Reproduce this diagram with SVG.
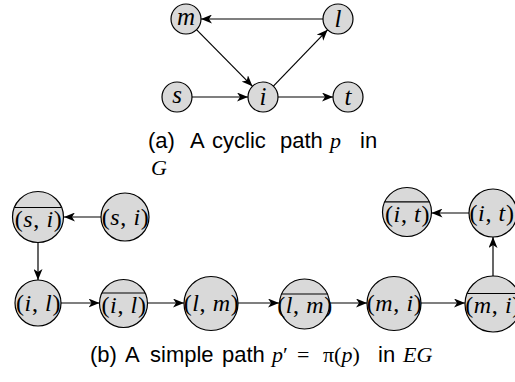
<svg xmlns="http://www.w3.org/2000/svg" width="515" height="382" viewBox="0 0 515 382">
<defs>
<marker id="ah" markerWidth="12" markerHeight="9" refX="11" refY="4.5" orient="auto" markerUnits="userSpaceOnUse">
<path d="M0,0 L11,4.5 L0,9 L3,4.5 z" fill="#000"/>
</marker>
<style>
.n{fill:#d9d9d9;stroke:#000;stroke-width:1.2}
.ov{stroke:#000;stroke-width:1.2}
.e{stroke:#000;stroke-width:1.2;fill:none;marker-end:url(#ah)}
.lb{font-family:"Liberation Serif","DejaVu Serif",serif;font-size:24px;letter-spacing:0.6px;text-anchor:middle;fill:#000}
.tp{font-family:"Liberation Serif","DejaVu Serif",serif;font-size:25px;text-anchor:middle;fill:#000;font-style:italic}
.it{font-style:italic}
.cap{font-family:"Liberation Sans",Arial,sans-serif;font-size:22px;fill:#000}
.m{font-family:"Liberation Serif","DejaVu Serif",serif}
</style>
</defs>
<g id="connectors">
<line class="e" x1="323" y1="19" x2="201" y2="19"/>
<line class="e" x1="196.5" y1="29.7" x2="252.5" y2="86.3"/>
<line class="e" x1="273.4" y1="86.2" x2="327.6" y2="29.8"/>
<line class="e" x1="192" y1="97" x2="248" y2="97"/>
<line class="e" x1="278" y1="97" x2="333" y2="97"/>
<line class="e" x1="101" y1="217" x2="64" y2="217"/>
<line class="e" x1="38" y1="243" x2="38" y2="280"/>
<line class="e" x1="61" y1="303" x2="99.5" y2="303"/>
<line class="e" x1="147.5" y1="303" x2="184" y2="303"/>
<line class="e" x1="238" y1="303" x2="279" y2="303"/>
<line class="e" x1="329" y1="303" x2="367" y2="303"/>
<line class="e" x1="421" y1="303" x2="465" y2="303"/>
<line class="e" x1="493" y1="276" x2="493" y2="237"/>
<line class="e" x1="469" y1="213" x2="431.5" y2="213"/>
</g>
<g id="m"><circle class="n" cx="186" cy="19" r="15"/><text class="tp" x="186" y="25">m</text></g>
<g id="l"><circle class="n" cx="338" cy="19" r="15"/><text class="tp" x="338" y="27">l</text></g>
<g id="s"><circle class="n" cx="177" cy="97" r="15"/><text class="tp" x="177" y="103">s</text></g>
<g id="i"><circle class="n" cx="263" cy="97" r="15"/><text class="tp" x="263" y="105">i</text></g>
<g id="t"><circle class="n" cx="348" cy="97" r="15"/><text class="tp" x="348" y="105">t</text></g>
<g id="ov-si"><circle class="n" cx="38" cy="217" r="25.5"/><line class="ov" x1="14.8" y1="207.5" x2="61.2" y2="207.5"/><text class="lb" x="38.5" y="227">(<tspan class="it">s</tspan>, <tspan class="it">i</tspan>)</text></g>
<g id="si"><circle class="n" cx="125" cy="217" r="24"/><text class="lb" x="125.5" y="225">(<tspan class="it">s</tspan>, <tspan class="it">i</tspan>)</text></g>
<g id="il"><circle class="n" cx="38" cy="303" r="23"/><text class="lb" x="38.5" y="311">(<tspan class="it">i</tspan>, <tspan class="it">l</tspan>)</text></g>
<g id="ov-il"><circle class="n" cx="123.5" cy="303.5" r="24"/><line class="ov" x1="102" y1="293" x2="145" y2="293"/><text class="lb" x="124" y="313">(<tspan class="it">i</tspan>, <tspan class="it">l</tspan>)</text></g>
<g id="lm"><circle class="n" cx="211" cy="303.5" r="27"/><text class="lb" x="211.5" y="311">(<tspan class="it">l</tspan>, <tspan class="it">m</tspan>)</text></g>
<g id="ov-lm"><circle class="n" cx="304.5" cy="304" r="25"/><line class="ov" x1="281.5" y1="294" x2="327.5" y2="294"/><text class="lb" x="305" y="313">(<tspan class="it">l</tspan>, <tspan class="it">m</tspan>)</text></g>
<g id="mi"><circle class="n" cx="394" cy="303.5" r="27"/><text class="lb" x="394.5" y="311">(<tspan class="it">m</tspan>, <tspan class="it">i</tspan>)</text></g>
<g id="ov-mi"><circle class="n" cx="493" cy="304" r="28"/><line class="ov" x1="467.2" y1="293.5" x2="518" y2="293.5"/><text class="lb" x="493" y="313">(<tspan class="it">m</tspan>, <tspan class="it">i</tspan>)</text></g>
<g id="it"><circle class="n" cx="493" cy="213" r="24"/><text class="lb" x="492" y="221">(<tspan class="it">i</tspan>, <tspan class="it">t</tspan>)</text></g>
<g id="ov-it"><circle class="n" cx="407" cy="212" r="24.5"/><line class="ov" x1="384.8" y1="201.8" x2="429.2" y2="201.8"/><text class="lb" x="407.5" y="222">(<tspan class="it">i</tspan>, <tspan class="it">t</tspan>)</text></g>
<text class="cap" y="148"><tspan x="148">(a)</tspan><tspan x="190">A</tspan><tspan x="212">cyclic</tspan><tspan x="280">path</tspan><tspan x="330" class="m it">p</tspan><tspan x="360">in</tspan></text>
<text class="cap m it" x="151" y="175">G</text>
<text class="cap" y="362"><tspan x="90">(b)</tspan><tspan x="125">A</tspan><tspan x="150">simple</tspan><tspan x="222">path</tspan><tspan x="272" class="m"><tspan class="it">p</tspan>′</tspan><tspan x="297" class="m">=</tspan><tspan x="323" class="m">π(<tspan class="it">p</tspan>)</tspan><tspan x="378">in</tspan><tspan x="403" class="m it">EG</tspan></text>
</svg>
